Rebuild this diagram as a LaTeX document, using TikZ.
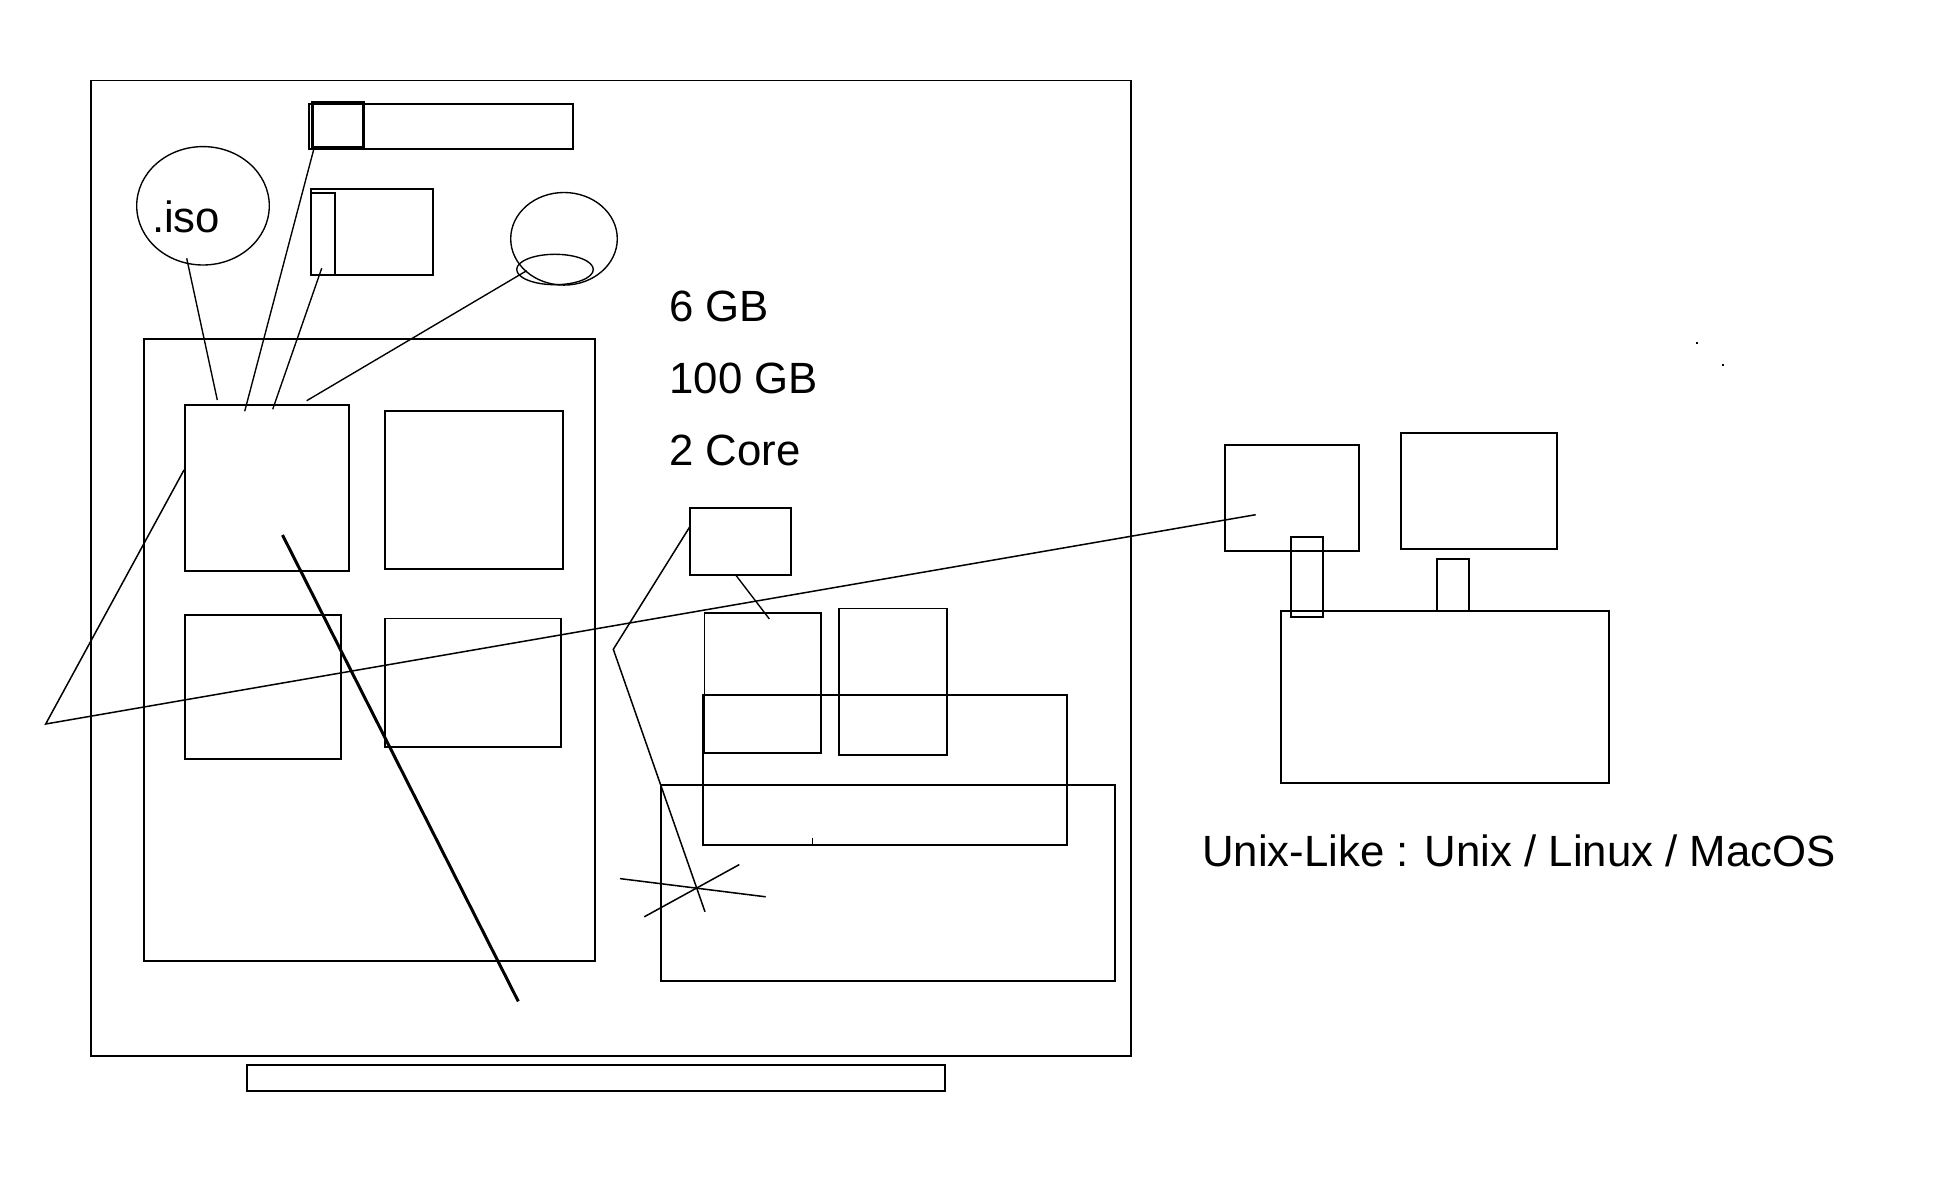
\documentclass[tikz,border=0pt]{standalone}
\usepackage{fontspec}
\setmainfont{Liberation Sans}
\begin{document}
\begin{tikzpicture}[x=0.4pt,y=-0.4pt,
  box/.style={draw=black,line width=0.75pt},
  thinline/.style={draw=black,line width=0.55pt},
  heavybox/.style={draw=black,line width=1.05pt},
  thickline/.style={draw=black,line width=1.2pt},
  lbl/.style={inner sep=0pt,anchor=base west,font=\fontsize{17.5}{20}\selectfont}]
\useasboundingbox[fill=white] (0,0) rectangle (1934,1184);
% outer frame and stand
\draw[box] (90.7,80.5) rectangle (1131,1056.4);
\draw[box] (247,1064.6) rectangle (945.3,1091);
% top items
\draw[box] (308.7,104.3) rectangle (573.3,149);
\draw[heavybox] (312.3,102.7) rectangle (363.3,147.3);
\draw[box] (310.7,188.7) rectangle (433,275);
\draw[box] (310.7,192.7) rectangle (335.3,275);
\draw[thinline] (203,205.8) ellipse [x radius=66.3,y radius=59.2];
\node[lbl] (iso) at (151.5,232.3) {.iso};
\draw[thinline] (564,238.8) ellipse [x radius=53.3,y radius=46.3];
\draw[thinline] (555,269.5) ellipse [x radius=38.3,y radius=15.2];
% big left panel
\draw[box] (144.3,338.7) rectangle (595.2,960.7);
\draw[box] (184.7,405) rectangle (348.7,570.8);
\draw[box] (384.7,410.7) rectangle (562.7,569);
\draw[box] (184.7,615) rectangle (341,758.7);
\draw[box] (384.7,618.5) rectangle (561.3,746.7);
% connector lines at top
\coordinate (l1a) at (186.7,258.3); \coordinate (l1b) at (217.3,400);
\coordinate (l2a) at (314.3,147.3); \coordinate (l2b) at (244.7,411.3);
\coordinate (l3a) at (321.7,268.3); \coordinate (l3b) at (272.7,409.3);
\coordinate (l4a) at (526.7,270.7); \coordinate (l4b) at (306.7,400.7);
\draw[thinline] (l1a) -- (l1b);
\draw[thinline] (l2a) -- (l2b);
\draw[thinline] (l3a) -- (l3b);
\draw[thinline] (l4a) -- (l4b);
% long line
\coordinate (ta) at (184,470); \coordinate (tb) at (45.7,724); \coordinate (tc) at (1255.7,514.7);
\draw[thinline,line width=0.6pt] (ta) -- (tb) -- (tc);
% thick diagonal
\coordinate (da) at (282.5,535); \coordinate (db) at (518.3,1001.4);
\draw[thickline] (da) -- (db);
% text
\node[lbl] (ram) at (669,321.4) {6 GB};
\node[lbl] (disk) at (669,393.9) {100 GB};
\node[lbl] (cpu) at (669,466) {2 Core};
% right part inside frame
\draw[box] (690.3,508.2) rectangle (791.2,575.2);
\draw[box] (704.5,612.8) rectangle (821,752.9);
\draw[box] (838.7,608.5) rectangle (947.2,755);
\draw[box] (702.7,694.6) rectangle (1067.1,844.6);
\draw[thinline] (812.7,837.9) -- (812.7,844.6);
\draw[box] (661,785) rectangle (1115,981);
\coordinate (sa) at (736,575.4); \coordinate (sb) at (769.3,618.9);
\draw[thinline] (sa) -- (sb);
\coordinate (za) at (690.3,526); \coordinate (zb) at (613.3,649.3); \coordinate (zc) at (705,911.8);
\draw[thinline,line width=0.6pt] (za) -- (zb) -- (zc);
\coordinate (c1a) at (620,878.6); \coordinate (c1b) at (765.7,896.8);
\coordinate (c2a) at (644.3,916.8); \coordinate (c2b) at (739.3,864.6);
\draw[thinline,line width=0.6pt] (c1a) -- (c1b);
\draw[thinline,line width=0.6pt] (c2a) -- (c2b);
% computer on the right
\draw[box] (1225,444.7) rectangle (1359,550.7);
\draw[box] (1400.7,432.7) rectangle (1557,548.7);
\draw[box] (1290.7,536.7) rectangle (1323,616.7);
\draw[box] (1436.7,559) rectangle (1468.7,610.7);
\draw[box] (1280.7,610.7) rectangle (1609,782.7);
\node[lbl] (unix) at (1201.6,866.7) {Unix-Like : Unix / Linux / MacOS};
% stray dots
\fill[black] (1696,341.7) rectangle (1698,343.7);
\fill[black] (1721.7,363.7) rectangle (1723.7,365.7);
\end{tikzpicture}
\end{document}
